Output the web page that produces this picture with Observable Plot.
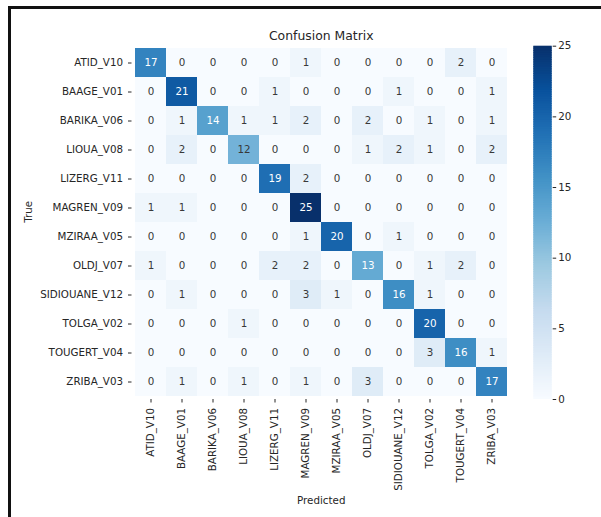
<!DOCTYPE html>
<html>
<head>
<meta charset="utf-8">
<script src="https://cdn.jsdelivr.net/npm/d3@7"></script>
<script src="https://cdn.jsdelivr.net/npm/@observablehq/plot@0.6"></script>
<style>
  html, body { margin: 0; padding: 0; background: #fff; overflow: hidden; }
  #page { position: relative; width: 601px; height: 517px; }
  #page svg { position: absolute; left: 0; top: 0; max-width: none; }
  #frame {
    position: absolute; left: 8px; top: 6px; width: 700px; height: 600px;
    border-left: 3px solid #111; border-top: 3px solid #111; pointer-events: none;
  }
</style>
</head>
<body>
<div id="page"><div id="frame"></div></div>
<script>
// Class names (rows: true label, columns: predicted label)
const classes = [
  "ATID_V10", "BAAGE_V01", "BARIKA_V06", "LIOUA_V08", "LIZERG_V11", "MAGREN_V09",
  "MZIRAA_V05", "OLDJ_V07", "SIDIOUANE_V12", "TOLGA_V02", "TOUGERT_V04", "ZRIBA_V03"
];

// Confusion counts, one row per true class
const counts = [
  [17, 0, 0, 0, 0, 1, 0, 0, 0, 0, 2, 0],
  [0, 21, 0, 0, 1, 0, 0, 0, 1, 0, 0, 1],
  [0, 1, 14, 1, 1, 2, 0, 2, 0, 1, 0, 1],
  [0, 2, 0, 12, 0, 0, 0, 1, 2, 1, 0, 2],
  [0, 0, 0, 0, 19, 2, 0, 0, 0, 0, 0, 0],
  [1, 1, 0, 0, 0, 25, 0, 0, 0, 0, 0, 0],
  [0, 0, 0, 0, 0, 1, 20, 0, 1, 0, 0, 0],
  [1, 0, 0, 0, 2, 2, 0, 13, 0, 1, 2, 0],
  [0, 1, 0, 0, 0, 3, 1, 0, 16, 1, 0, 0],
  [0, 0, 0, 1, 0, 0, 0, 0, 0, 20, 0, 0],
  [0, 0, 0, 0, 0, 0, 0, 0, 0, 3, 16, 1],
  [0, 1, 0, 1, 0, 1, 0, 3, 0, 0, 0, 17]
];

const colorbarTicks = [0, 5, 10, 15, 20, 25];

// Blues palette (ColorBrewer 9-class), linearly interpolated
const blues9 = ["#f7fbff", "#deebf7", "#c6dbef", "#9ecae1", "#6baed6", "#4292c6", "#2171b5", "#08519c", "#08306b"];
const vmin = 0, vmax = 25;
const colorScale = {
  type: "linear",
  domain: blues9.map((_, i) => vmin + (vmax - vmin) * i / (blues9.length - 1)),
  range: blues9,
  interpolate: "rgb"
};

const cells = counts.flatMap((row, i) => row.map((v, j) => ({true: classes[i], pred: classes[j], value: v})));
const isDark = d => d.value >= 13;

const W = 601, H = 517;
const mTop = 45.7, mBottom = 118, mLeft = 131.5, mRight = 91;
const font = "DejaVu Sans, sans-serif";

const heatmap = Plot.plot({
  width: W, height: H,
  marginTop: mTop, marginBottom: mBottom, marginLeft: mLeft, marginRight: mRight,
  style: {fontFamily: font, fontSize: "10.3px", color: "#262626", background: "transparent", overflow: "visible"},
  x: {domain: classes, padding: 0, label: null, tickRotate: -90, tickSize: 3.5, tickPadding: 5},
  y: {domain: classes, padding: 0, label: null, tickSize: 3.5, tickPadding: 5.5},
  color: colorScale,
  marks: [
    Plot.cell(cells, {x: "pred", y: "true", fill: "value"}),
    Plot.text(cells, {filter: d => !isDark(d), x: "pred", y: "true", text: "value", fill: "#383838", fontSize: 10.3}),
    Plot.text(cells, {filter: isDark, x: "pred", y: "true", text: "value", fill: "#fff", fontSize: 10.3}),
    Plot.text(["Confusion Matrix"], {frameAnchor: "top", lineAnchor: "middle", text: d => d, dy: -9.7, fontSize: 12.4, fill: "#262626"}),
    Plot.text(["Predicted"], {frameAnchor: "bottom", lineAnchor: "middle", text: d => d, dy: 101.5, fontSize: 10.3, fill: "#262626"}),
    Plot.text(["True"], {frameAnchor: "left", text: d => d, dx: -103.5, rotate: -90, fontSize: 10.3, fill: "#262626"})
  ]
});

// Colour bar: thin horizontal slices over the value range
const step = 0.125;
const stops = d3.range(vmin, vmax, step);
const colorbar = Plot.plot({
  width: W, height: H,
  marginTop: mTop, marginBottom: mBottom, marginLeft: 533.3, marginRight: 49.3,
  style: {fontFamily: font, fontSize: "10.3px", color: "#262626", background: "transparent", overflow: "visible"},
  y: {domain: [vmin, vmax], axis: "right", label: null, ticks: colorbarTicks, tickSize: 3.5, tickPadding: 2.5},
  color: colorScale,
  marks: [
    Plot.rect(stops, {y1: d => d, y2: d => Math.min(vmax, d + step * 1.5), fill: d => d + step / 2})
  ]
});

const page = document.getElementById("page");
page.insertBefore(colorbar, page.firstChild);
page.insertBefore(heatmap, page.firstChild);
</script>
</body>
</html>
